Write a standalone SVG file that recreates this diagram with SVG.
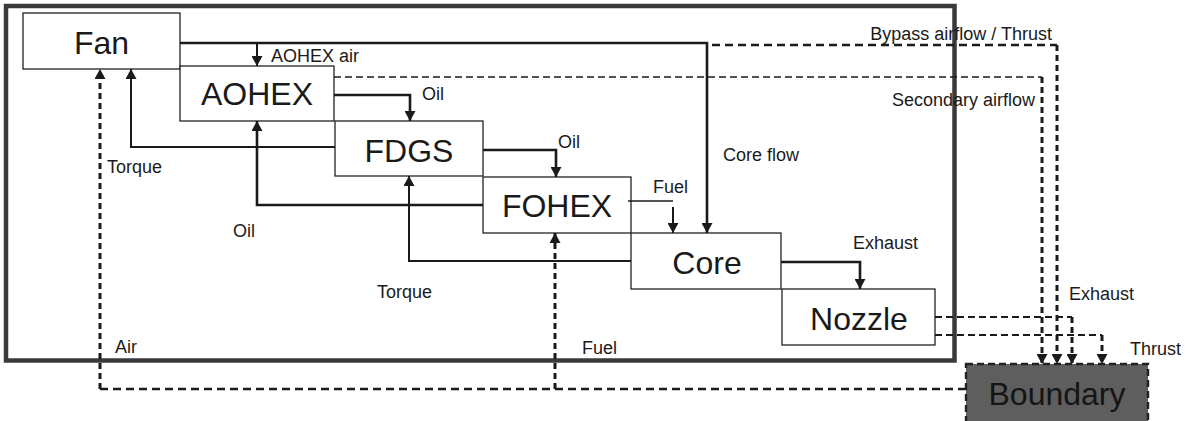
<svg xmlns="http://www.w3.org/2000/svg" width="1188" height="421" viewBox="0 0 1188 421">
<style>
.box{fill:#fff;stroke:#222;stroke-width:1.3}
.big{font-family:"Liberation Sans",Arial,sans-serif;font-size:32px;fill:#1a1a1a;text-anchor:middle}
.lbl{font-family:"Liberation Sans",Arial,sans-serif;font-size:18px;fill:#1a1a1a}
.c{fill:none;stroke:#1a1a1a}
.thick{stroke-width:2.6}
.med{stroke-width:2}
.thin{stroke-width:1.4}
.dash{stroke-width:2.4;stroke-dasharray:8 5}
.dashv{stroke-width:3;stroke-dasharray:6 4}
</style>
<defs>
<marker id="ah" viewBox="0 0 10 11" refX="10" refY="5.5" markerWidth="10" markerHeight="11" markerUnits="userSpaceOnUse" orient="auto">
<path d="M0,0 L10,5.5 L0,11 z" fill="#1a1a1a"/>
</marker>
</defs>
<rect x="0" y="0" width="1188" height="421" fill="#fff"/>
<rect id="system" x="6" y="6" width="948.5" height="354.5" fill="none" stroke="#3a3a3a" stroke-width="4.5"/>

<g id="fan"><rect class="box" x="23" y="13" width="157" height="56"/><text class="big" x="101.5" y="54">Fan</text></g>
<g id="aohex"><rect class="box" x="180" y="66" width="154" height="55"/><text class="big" x="257" y="105">AOHEX</text></g>
<g id="fdgs"><rect class="box" x="335" y="121" width="148" height="55"/><text class="big" x="409" y="162">FDGS</text></g>
<g id="fohex"><rect class="box" x="483" y="177" width="148" height="56"/><text class="big" x="557" y="217">FOHEX</text></g>
<g id="core"><rect class="box" x="631" y="233" width="150" height="56"/><text class="big" x="707" y="274">Core</text></g>
<g id="nozzle"><rect class="box" x="782" y="289" width="153" height="56"/><text class="big" x="859" y="330">Nozzle</text></g>
<g id="boundary"><rect x="966" y="364" width="182" height="62" fill="#5e5e5e" stroke="#222" stroke-width="2.4" stroke-dasharray="7 4"/><text class="big" x="1057" y="405" style="fill:#151515">Boundary</text></g>

<g id="connectors">
<path class="c thick" d="M180,43 H707 V233" marker-end="url(#ah)"/>
<path class="c med" d="M257,43 V66" marker-end="url(#ah)"/>
<path class="c dash" d="M712,45 H1057"/>
<path class="c dashv" d="M1057,45 V364" marker-end="url(#ah)"/>
<path class="c" style="stroke-width:1.6;stroke-dasharray:7 4" d="M334,77 H1042"/>
<path class="c dashv" d="M1042,77 V364" marker-end="url(#ah)"/>
<path class="c thick" d="M334,95 H410 V121" marker-end="url(#ah)"/>
<path class="c thick" d="M483,150 H556 V177" marker-end="url(#ah)"/>
<path class="c thin" d="M628,201 H673"/>
<path class="c med" d="M673,207 V233" marker-end="url(#ah)"/>
<path class="c thick" d="M781,262 H860 V289" marker-end="url(#ah)"/>
<path class="c med" d="M335,147 H131 V69" marker-end="url(#ah)"/>
<path class="c thick" d="M483,205 H257 V121" marker-end="url(#ah)"/>
<path class="c med" d="M631,261 H409 V176" marker-end="url(#ah)"/>
<path class="c dash" d="M966,389 H100"/>
<path class="c dashv" d="M100,389 V69" marker-end="url(#ah)"/>
<path class="c dashv" d="M555,389 V233" marker-end="url(#ah)"/>
<path class="c" style="stroke-width:2;stroke-dasharray:7 4" d="M935,317 H1072"/>
<path class="c dashv" d="M1072,317 V364" marker-end="url(#ah)"/>
<path class="c" style="stroke-width:2;stroke-dasharray:7 4" d="M935,335 H1102"/>
<path class="c dashv" d="M1102,335 V364" marker-end="url(#ah)"/>
</g>

<g id="labels">
<text class="lbl" x="271" y="62">AOHEX air</text>
<text class="lbl" x="1052" y="40" text-anchor="end">Bypass airflow / Thrust</text>
<text class="lbl" x="1035" y="106" text-anchor="end">Secondary airflow</text>
<text class="lbl" x="422" y="100">Oil</text>
<text class="lbl" x="558" y="148">Oil</text>
<text class="lbl" x="723" y="161">Core flow</text>
<text class="lbl" x="653" y="193">Fuel</text>
<text class="lbl" x="107" y="173">Torque</text>
<text class="lbl" x="233" y="237">Oil</text>
<text class="lbl" x="377" y="298">Torque</text>
<text class="lbl" x="853" y="249">Exhaust</text>
<text class="lbl" x="115" y="353">Air</text>
<text class="lbl" x="582" y="354">Fuel</text>
<text class="lbl" x="1069" y="300">Exhaust</text>
<text class="lbl" x="1130" y="355">Thrust</text>
</g>
</svg>
